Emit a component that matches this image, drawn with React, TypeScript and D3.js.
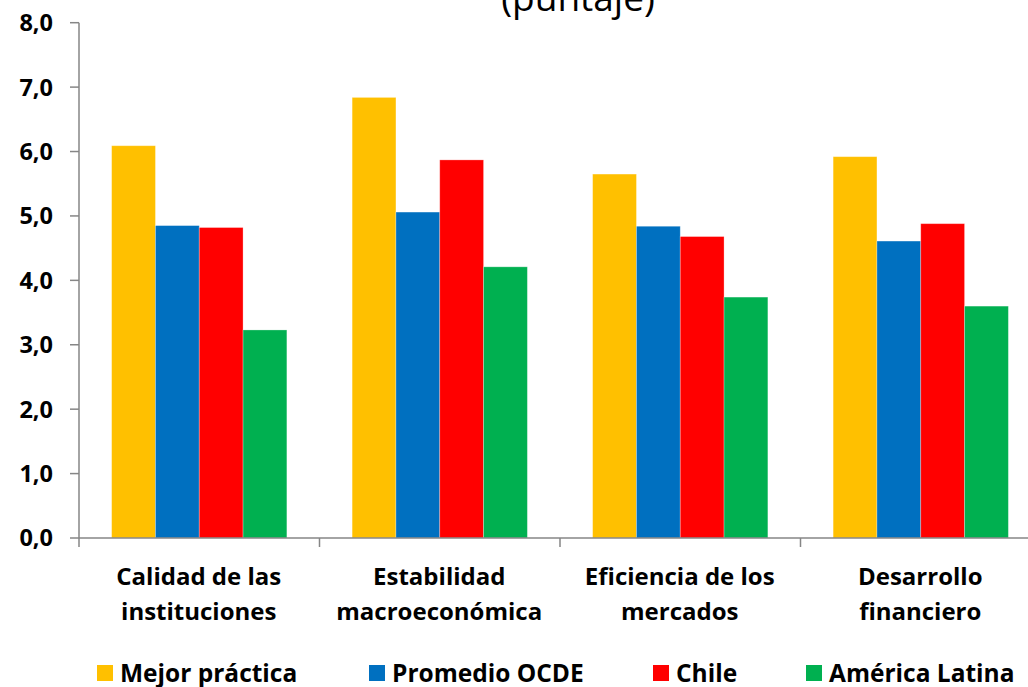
import React from 'react';
import { scaleBand, scaleLinear, range } from 'd3';

const categories = [
  ['Calidad de las', 'instituciones'],
  ['Estabilidad', 'macroeconómica'],
  ['Eficiencia de los', 'mercados'],
  ['Desarrollo', 'financiero'],
];
const seriesNames = ['Mejor práctica', 'Promedio OCDE', 'Chile', 'América Latina'];
const mejorPractica = [6.09, 6.84, 5.65, 5.92];
const promedioOcde = [4.85, 5.06, 4.84, 4.61];
const chile = [4.82, 5.87, 4.68, 4.88];
const americaLatina = [3.23, 4.21, 3.74, 3.6];
const yTicks = [0, 1, 2, 3, 4, 5, 6, 7, 8];

const colors = ['#FFC000', '#0070C0', '#FF0000', '#00B050'];
const series = [mejorPractica, promedioOcde, chile, americaLatina];

const W = 1028;
const H = 687;
const font = '"Open Sans", "Noto Sans", sans-serif';
const axisColor = '#868686';

export default function App() {
  const x0 = 79;
  const groupW = 240.5;
  const x = scaleBand<number>()
    .domain(range(categories.length + 1))
    .range([x0, x0 + groupW * (categories.length + 1)])
    .paddingInner(0)
    .paddingOuter(0);
  const xInner = scaleBand<number>()
    .domain(range(series.length))
    .range([0, groupW])
    .paddingOuter(0.745)
    .paddingInner(0);
  const y = scaleLinear().domain([0, 8]).range([538, 22.7]);

  const legendX = [97, 369, 653, 806];

  return (
    <svg
      width={W}
      height={H}
      style={{ position: 'absolute', left: 0, top: 0, background: '#fff' }}
    >
      <text
        x={578}
        y={11}
        textAnchor="middle"
        fontFamily={font}
        fontSize={37}
        fill="#000"
      >
        (puntaje)
      </text>

      {series.map((vals, si) =>
        vals.map((v, ci) => (
          <rect
            key={`${si}-${ci}`}
            x={(x(ci) ?? 0) + (xInner(si) ?? 0)}
            y={y(v)}
            width={xInner.bandwidth()}
            height={y(0) - y(v)}
            fill={colors[si]}
            stroke="#fff"
            strokeOpacity={0.35}
            strokeWidth={0.8}
          />
        )),
      )}

      {/* y axis */}
      <line x1={x0} x2={x0} y1={y(8)} y2={y(0)} stroke={axisColor} strokeWidth={1.5} />
      {yTicks.map(t => (
        <g key={t}>
          <line x1={x0 - 9} x2={x0} y1={y(t)} y2={y(t)} stroke={axisColor} strokeWidth={1.5} />
          <text
            x={53}
            y={y(t)}
            dy="0.36em"
            textAnchor="end"
            fontFamily={font}
            fontWeight="bold"
            fontSize={23.5}
          >
            {t.toFixed(1).replace('.', ',')}
          </text>
        </g>
      ))}

      {/* x axis */}
      <line x1={x0} x2={W} y1={y(0)} y2={y(0)} stroke={axisColor} strokeWidth={1.5} />
      {range(categories.length + 1).map(i => (
        <line
          key={i}
          x1={x(i) ?? 0}
          x2={x(i) ?? 0}
          y1={y(0)}
          y2={y(0) + 9}
          stroke={axisColor}
          strokeWidth={1.5}
        />
      ))}
      {categories.map((lines, ci) => (
        <text
          key={ci}
          x={(x(ci) ?? 0) + groupW / 2 - 0.5}
          textAnchor="middle"
          fontFamily={font}
          fontWeight="bold"
          fontSize={24}
        >
          {lines.map((l, li) => (
            <tspan key={li} x={(x(ci) ?? 0) + groupW / 2 - 0.5} y={585 + li * 35}>
              {l}
            </tspan>
          ))}
        </text>
      ))}

      {/* legend */}
      {seriesNames.map((name, si) => (
        <g key={name}>
          <rect x={legendX[si]} y={665} width={16} height={16} fill={colors[si]} />
          <text
            x={legendX[si] + 23}
            y={682}
            fontFamily={font}
            fontWeight="bold"
            fontSize={24.5}
          >
            {name}
          </text>
        </g>
      ))}
    </svg>
  );
}
